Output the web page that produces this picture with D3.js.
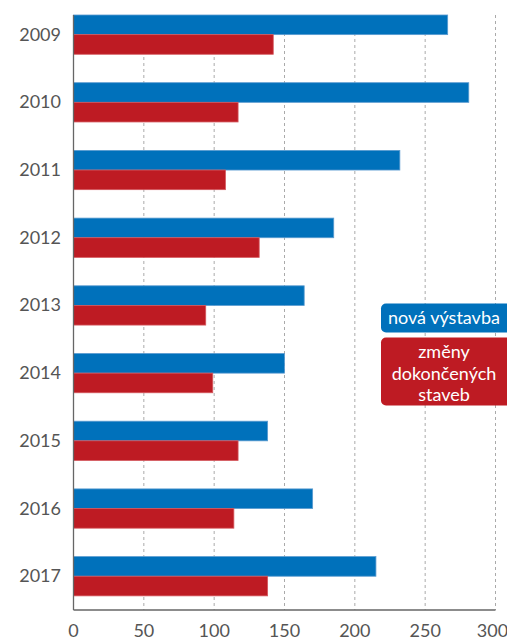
<!DOCTYPE html>
<html>
<head>
<meta charset="utf-8">
<script src="https://cdn.jsdelivr.net/npm/d3@7"></script>
<style>
  body { margin: 0; background: #fff; }
  svg { display: block; }
</style>
</head>
<body>
<div id="chart"></div>
<script>
// data
const years = ["2009", "2010", "2011", "2012", "2013", "2014", "2015", "2016", "2017"];
const seriesNames = ["nová výstavba", "změny dokončených staveb"];
const novaVystavba = [266, 281, 232, 185, 164, 150, 138, 170, 215];
const zmenyStaveb = [142, 117, 108, 132, 94, 99, 117, 114, 138];
const xTicks = [0, 50, 100, 150, 200, 250, 300];

const W = 507, H = 641;
const topY = 15, axisY = 610;
const colors = ["#0071bb", "#be1b23"];
const font = "Lato, 'Open Sans', sans-serif";

const svg = d3.select("#chart").append("svg")
    .attr("width", W)
    .attr("height", H);

const x = d3.scaleLinear().domain([0, 300]).range([73.5, 495.5]);
const y = d3.scaleBand()
    .domain(years)
    .range([topY, topY + 67.7 * (years.length - 0.42)])
    .paddingInner(0.42)
    .paddingOuter(0);
const ySub = d3.scaleBand().domain([0, 1]).range([0, y.bandwidth()]);

// dashed gridlines
svg.append("g")
    .selectAll("line")
    .data(xTicks.slice(1))
    .enter()
    .append("line")
    .attr("x1", d => x(d))
    .attr("x2", d => x(d))
    .attr("y1", topY)
    .attr("y2", axisY)
    .attr("stroke", "#aaa")
    .attr("stroke-width", 1)
    .attr("stroke-dasharray", "3,3");

// bars
const rows = years.map((yr, i) => ({ year: yr, vals: [novaVystavba[i], zmenyStaveb[i]] }));
const groups = svg.selectAll(".grp")
    .data(rows)
    .enter()
    .append("g")
    .attr("transform", d => `translate(0,${y(d.year)})`);

groups.selectAll("rect")
    .data(d => d.vals.map((v, k) => ({ v: v, k: k })))
    .enter()
    .append("rect")
    .attr("x", x(0))
    .attr("y", d => ySub(d.k))
    .attr("width", d => x(d.v) - x(0))
    .attr("height", ySub.bandwidth())
    .attr("fill", d => colors[d.k])
    .attr("stroke", d => d.k == 0 ? "#5a9bd0" : "#d4575d")
    .attr("stroke-width", 0.8);

// year labels
svg.append("g")
    .selectAll("text")
    .data(years)
    .enter()
    .append("text")
    .attr("x", 61)
    .attr("y", d => y(d) + y.bandwidth() / 2 - 1)
    .attr("text-anchor", "end")
    .attr("dominant-baseline", "central")
    .attr("font-family", font)
    .attr("font-size", "18px")
    .attr("fill", "#555")
    .text(d => d);

// axes lines
svg.append("line")
    .attr("x1", x(0)).attr("x2", x(0))
    .attr("y1", topY).attr("y2", axisY)
    .attr("stroke", "#666").attr("stroke-width", 1.3);
svg.append("line")
    .attr("x1", x(0)).attr("x2", x(300))
    .attr("y1", axisY).attr("y2", axisY)
    .attr("stroke", "#666").attr("stroke-width", 1.3);

// x tick labels
svg.append("g")
    .selectAll("text")
    .data(xTicks)
    .enter()
    .append("text")
    .attr("x", d => x(d) - (d == 300 ? 3 : 0))
    .attr("y", 637)
    .attr("text-anchor", "middle")
    .attr("font-family", font)
    .attr("font-size", "18px")
    .attr("fill", "#555")
    .text(d => d);

// legend
svg.append("rect")
    .attr("x", 381).attr("y", 303.5)
    .attr("width", 135).attr("height", 29)
    .attr("rx", 5)
    .attr("fill", colors[0]);
svg.append("text")
    .attr("x", 388).attr("y", 324)
    .attr("font-family", font)
    .attr("font-size", "18px")
    .attr("fill", "#fff")
    .text(seriesNames[0]);

svg.append("rect")
    .attr("x", 381).attr("y", 337.5)
    .attr("width", 135).attr("height", 68)
    .attr("rx", 5)
    .attr("fill", colors[1]);
const lines2 = ["změny", "dokončených", "staveb"];
svg.append("g")
    .selectAll("text")
    .data(lines2)
    .enter()
    .append("text")
    .attr("x", 444)
    .attr("y", (d, i) => 358 + i * 21.5)
    .attr("text-anchor", "middle")
    .attr("font-family", font)
    .attr("font-size", "18px")
    .attr("fill", "#fff")
    .text(d => d);
</script>
</body>
</html>
